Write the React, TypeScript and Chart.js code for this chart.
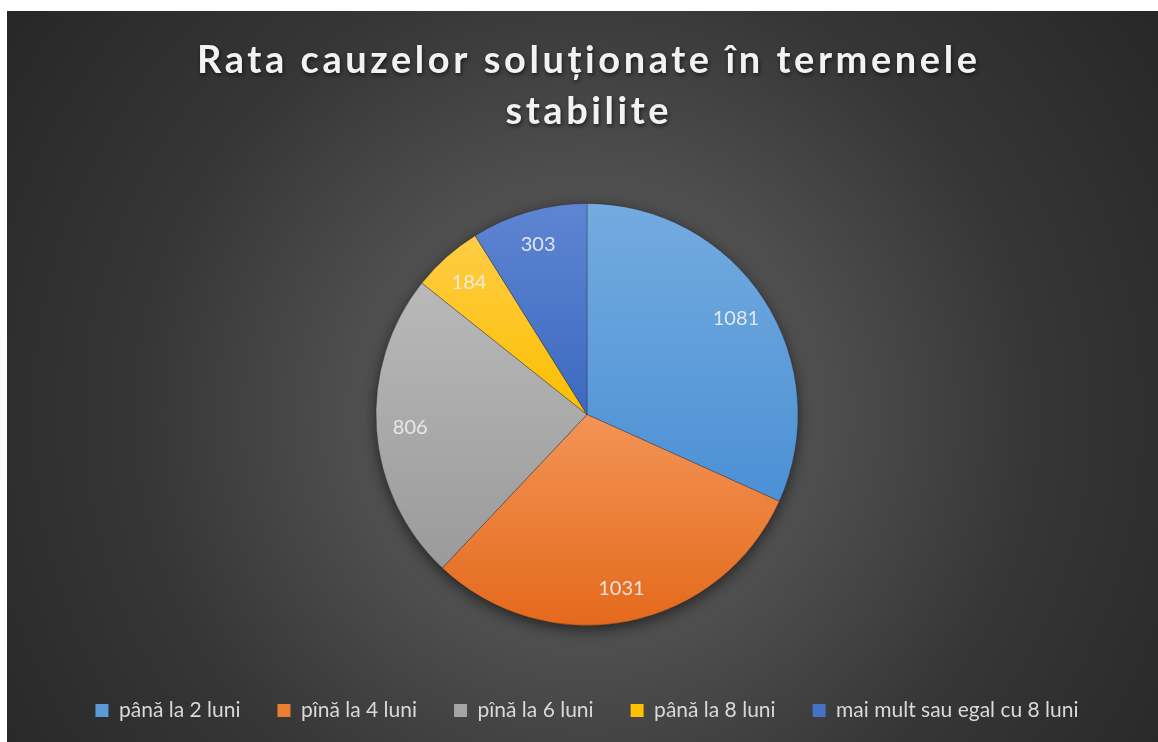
import React, { useEffect, useRef } from "react";
import { Chart, registerables } from "chart.js";

Chart.register(...registerables);

const titleLines = ["Rata cauzelor soluționate în termenele", "stabilite"];
const categories = [
  "până la 2 luni",
  "pînă la 4 luni",
  "pînă la 6 luni",
  "până la 8 luni",
  "mai mult sau egal cu 8 luni",
];
const values = [1081, 1031, 806, 184, 303];
const baseColors = ["#5B9BD5", "#ED7D31", "#A5A5A5", "#FFC000", "#4472C4"];
const topColors = ["#74abe0", "#f39457", "#b9b9b9", "#ffcc45", "#5e85d2"];
const bottomColors = ["#4b90d5", "#e4691b", "#9a9a9a", "#fcbf00", "#3c69c0"];

const PIE_RADIUS = 211;
const FONT = "Lato, 'Open Sans', sans-serif";

function sliceGradient(chart: any, i: number) {
  const area = chart.chartArea;
  if (!area) return baseColors[i];
  const cx = (area.left + area.right) / 2;
  const cy = (area.top + area.bottom) / 2;
  const total = values.reduce((a, b) => a + b, 0);
  let acc = 0;
  for (let k = 0; k < i; k++) acc += values[k];
  const start = -Math.PI / 2 + (acc / total) * Math.PI * 2;
  const end = start + (values[i] / total) * Math.PI * 2;
  let minY = cy;
  let maxY = cy;
  const consider = (a: number) => {
    const py = cy + Math.sin(a) * PIE_RADIUS;
    minY = Math.min(minY, py);
    maxY = Math.max(maxY, py);
  };
  consider(start);
  consider(end);
  for (let k = -2; k <= 4; k++) {
    const a = (k * Math.PI) / 2;
    if (a > start && a < end) consider(a);
  }
  const g = chart.ctx.createLinearGradient(0, minY, 0, maxY);
  g.addColorStop(0, topColors[i]);
  g.addColorStop(1, bottomColors[i]);
  return g;
}

const backgroundAndTitle = {
  id: "backgroundAndTitle",
  beforeDraw(chart: any) {
    const { ctx, width, height } = chart;
    ctx.save();
    const cx = width / 2;
    const cy = 403;
    const g = ctx.createRadialGradient(cx, cy, 0, cx, cy, 720);
    g.addColorStop(0, "#585858");
    g.addColorStop(0.33, "#4e4e4e");
    g.addColorStop(0.62, "#363636");
    g.addColorStop(1, "#262626");
    ctx.fillStyle = g;
    ctx.fillRect(0, 0, width, height);

    // title
    ctx.font = `bold 38px ${FONT}`;
    ctx.textBaseline = "alphabetic";
    ctx.textAlign = "left";
    ctx.fillStyle = "#f2f2f2";
    ctx.shadowColor = "rgba(0,0,0,0.6)";
    ctx.shadowBlur = 4;
    ctx.shadowOffsetX = 1;
    ctx.shadowOffsetY = 2;
    const supportsLS = "letterSpacing" in ctx;
    const targetWidth = 780;
    const first = titleLines[0];
    const rawW = ctx.measureText(first).width;
    const spacing = (targetWidth - rawW) / (first.length - 1);
    const baselines = [62, 113];
    titleLines.forEach((line: string, li: number) => {
      if (supportsLS) {
        ctx.letterSpacing = `${spacing}px`;
        const w = ctx.measureText(line).width - spacing;
        ctx.fillText(line, cx - w / 2, baselines[li]);
        ctx.letterSpacing = "0px";
      } else {
        const w = ctx.measureText(line).width + spacing * (line.length - 1);
        let x = cx - w / 2;
        for (const ch of line) {
          ctx.fillText(ch, x, baselines[li]);
          x += ctx.measureText(ch).width + spacing;
        }
      }
    });
    ctx.restore();
  },
};

const pieShadow = {
  id: "pieShadow",
  beforeDatasetsDraw(chart: any) {
    const meta = chart.getDatasetMeta(0);
    const a0: any = meta.data[0];
    if (!a0) return;
    const ctx = chart.ctx;
    ctx.save();
    ctx.shadowColor = "rgba(0,0,0,0.55)";
    ctx.shadowBlur = 14;
    ctx.shadowOffsetY = 4;
    ctx.beginPath();
    ctx.arc(a0.x, a0.y, a0.outerRadius, 0, Math.PI * 2);
    ctx.fillStyle = "#3a3a3a";
    ctx.fill();
    ctx.restore();
  },
};

const dataLabels = {
  id: "dataLabels",
  afterDatasetsDraw(chart: any) {
    const meta = chart.getDatasetMeta(0);
    const ctx = chart.ctx;
    ctx.save();
    ctx.font = `20px ${FONT}`;
    ctx.fillStyle = "rgba(240,240,240,0.9)";
    ctx.textAlign = "center";
    ctx.textBaseline = "middle";
    meta.data.forEach((arc: any, i: number) => {
      const mid = (arc.startAngle + arc.endAngle) / 2;
      const r = arc.outerRadius * 0.84;
      ctx.fillText(String(values[i]), arc.x + Math.cos(mid) * r, arc.y + Math.sin(mid) * r);
    });
    ctx.restore();
  },
};

export default function App() {
  const ref = useRef<HTMLCanvasElement | null>(null);
  useEffect(() => {
    if (!ref.current) return;
    const chart = new Chart(ref.current, {
      type: "pie",
      data: {
        labels: categories,
        datasets: [
          {
            data: values,
            backgroundColor: (c: any) => sliceGradient(c.chart, c.dataIndex),
            borderColor: "rgba(40,40,40,0.35)",
            borderWidth: 1,
            radius: PIE_RADIUS,
          } as any,
        ],
      },
      plugins: [backgroundAndTitle, pieShadow, dataLabels],
      options: {
        responsive: false,
        animation: false,
        events: [],
        layout: { padding: { top: 155, bottom: 20, left: 0, right: 0 } },
        plugins: {
          title: { display: false },
          tooltip: { enabled: false },
          legend: {
            display: true,
            position: "bottom",
            labels: {
              color: "#d9d9d9",
              font: { family: FONT, size: 21 },
              boxWidth: 13,
              boxHeight: 13,
              padding: 37,
              generateLabels: () =>
                categories.map((t, i) => ({
                  text: t,
                  fillStyle: baseColors[i],
                  strokeStyle: baseColors[i],
                  lineWidth: 0,
                  hidden: false,
                  index: i,
                  fontColor: "#d9d9d9",
                })),
            },
          },
        },
      },
    });
    return () => chart.destroy();
  }, []);
  return (
    <div style={{ position: "fixed", left: 7, top: 11, width: 1160, height: 740 }}>
      <canvas ref={ref} width={1160} height={740} style={{ width: 1160, height: 740, display: "block" }} />
    </div>
  );
}
